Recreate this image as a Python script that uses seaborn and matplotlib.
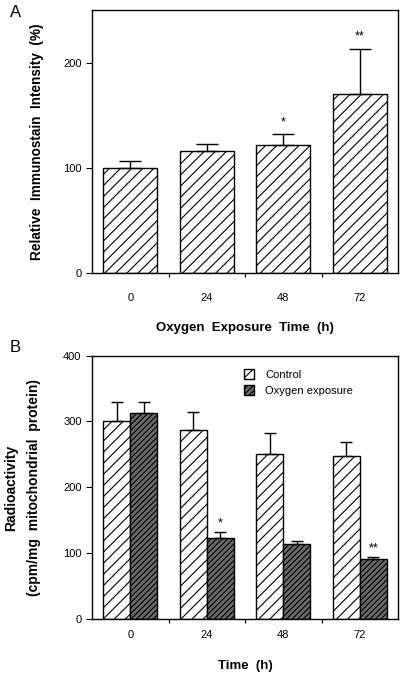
import numpy as np
import pandas as pd
import matplotlib
matplotlib.use("Agg")
import matplotlib.pyplot as plt
import seaborn as sns
from matplotlib.patches import Patch

times = ["0", "24", "48", "72"]

# panel A: relative immunostain intensity (%)
a_mean = [100, 116, 122, 170]
a_err = [7, 7, 10, 43]
a_stars = ["", "", "*", "**"]

# panel B: radioactivity (cpm/mg mitochondrial protein)
b_control = [300, 287, 250, 247]
b_control_err = [29, 28, 32, 22]
b_oxygen = [313, 123, 114, 91]
b_oxygen_err = [16, 10, 4, 3]
b_stars = ["", "*", "", "**"]
groups = ["Control", "Oxygen exposure"]

sns.set_style("ticks")
plt.rcParams["font.family"] = ["Liberation Sans", "DejaVu Sans"]
plt.rcParams["hatch.linewidth"] = 0.8
plt.rcParams["text.color"] = "black"
plt.rcParams["axes.labelcolor"] = "black"
plt.rcParams["xtick.color"] = "black"
plt.rcParams["ytick.color"] = "black"

fig = plt.figure(figsize=(4.0, 6.78), dpi=100)
ax1 = fig.add_axes([0.23, 0.597, 0.765, 0.388])
ax2 = fig.add_axes([0.23, 0.0866, 0.765, 0.389])

# ---- panel A ----
df_a = pd.DataFrame({"time": times, "value": a_mean})
sns.barplot(data=df_a, x="time", y="value", ax=ax1, width=0.71,
            color="white", edgecolor="black", linewidth=1.0, errorbar=None)
for p in ax1.patches:
    p.set_hatch("///")
xs = [p.get_x() + p.get_width() / 2 for p in ax1.patches]
ax1.errorbar(xs, a_mean, yerr=[np.zeros(len(a_err)), a_err], fmt="none",
             ecolor="black", elinewidth=1.0, capsize=8, capthick=1.0)
for x, m, e, s in zip(xs, a_mean, a_err, a_stars):
    if s:
        ax1.text(x, m + e + 6, s, ha="center", va="bottom", fontsize=9)
ax1.set_ylim(0, 250)
ax1.set_yticks([0, 100, 200])
ax1.set_ylabel("Relative  Immunostain  Intensity  (%)", fontsize=9.8,
               fontweight="bold", labelpad=14)
ax1.set_xlabel("Oxygen  Exposure  Time  (h)", fontsize=9.5,
               fontweight="bold", labelpad=14)
ax1.tick_params(axis="x", length=0, pad=14)
fig.text(0.025, 0.993, "A", fontsize=12, va="top")

# ---- panel B ----
df_b = pd.DataFrame({
    "time": times * 2,
    "group": [groups[0]] * 4 + [groups[1]] * 4,
    "value": b_control + b_oxygen,
})
sns.barplot(data=df_b, x="time", y="value", hue="group", ax=ax2, width=0.71,
            palette=["white", "#6a6a6a"], edgecolor="black", linewidth=1.0,
            errorbar=None, legend=False)
bars = ax2.patches[:8]
for i, p in enumerate(bars):
    p.set_hatch("///" if i < 4 else "//////")
for vals, errs, stars, sub in [(b_control, b_control_err, None, bars[:4]),
                               (b_oxygen, b_oxygen_err, b_stars, bars[4:])]:
    bx = [p.get_x() + p.get_width() / 2 for p in sub]
    ax2.errorbar(bx, vals, yerr=[np.zeros(len(errs)), errs], fmt="none",
                 ecolor="black", elinewidth=1.0, capsize=4.5, capthick=1.0)
    if stars:
        for x, m, e, s in zip(bx, vals, errs, stars):
            if s:
                ax2.text(x, m + e + 4, s, ha="center", va="bottom", fontsize=9)
ax2.set_ylim(0, 400)
ax2.set_yticks([0, 100, 200, 300, 400])
ax2.set_ylabel("Radioactivity\n(cpm/mg  mitochondrial  protein)", fontsize=10,
               fontweight="bold", labelpad=16, linespacing=1.75)
ax2.set_xlabel("Time  (h)", fontsize=9.5, fontweight="bold", labelpad=14)
ax2.tick_params(axis="x", length=0, pad=8)
handles = [Patch(facecolor="white", edgecolor="black", hatch="///"),
           Patch(facecolor="#6a6a6a", edgecolor="black", hatch="//////")]
ax2.legend(handles, groups, loc="upper left", bbox_to_anchor=(0.465, 0.985),
           frameon=False, fontsize=8, handlelength=0.9, handleheight=0.9,
           handletextpad=1.0, labelspacing=0.5)
fig.text(0.025, 0.4985, "B", fontsize=12, va="top")

for ax in (ax1, ax2):
    ax.set_xlim(-0.5, 3.5)
    ax.set_xticks(range(4))
    ax.set_xticklabels(times, fontsize=8)
    ax.set_xticks([0.5, 1.5, 2.5], minor=True)
    ax.tick_params(axis="x", which="minor", length=3, width=0.8)
    ax.tick_params(axis="y", length=4, width=0.8, labelsize=8)
    for sp in ax.spines.values():
        sp.set_visible(True)
        sp.set_linewidth(1.0)
        sp.set_color("black")

fig.savefig("out.png", dpi=100)
